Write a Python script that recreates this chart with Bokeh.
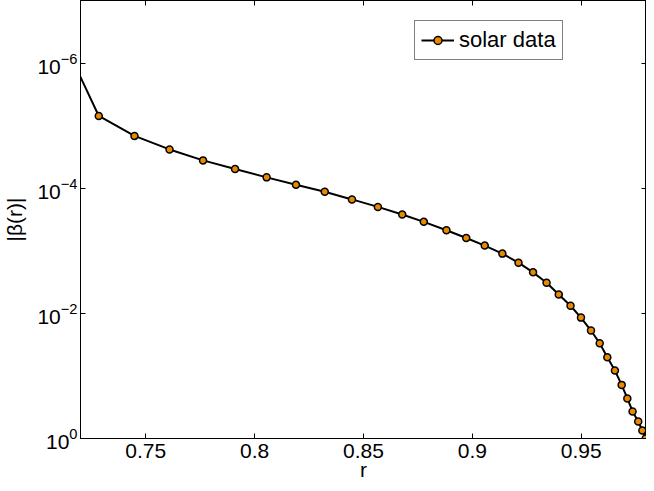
from bokeh.plotting import figure
from bokeh.models import (Range1d, FixedTicker, LinearAxis, LogAxis, NumeralTickFormatter,
                          Legend, LegendItem, CustomJSTickFormatter)
from bokeh.embed import file_html
from bokeh.resources import INLINE

# data
r = [0.7116, 0.7284, 0.7448, 0.7609, 0.7763, 0.7910, 0.8055, 0.8190, 0.8322, 0.8447,
     0.8566, 0.8678, 0.8777, 0.8881, 0.8972, 0.9057, 0.9138, 0.9212, 0.9279, 0.9341,
     0.9397, 0.9451, 0.9499, 0.9545, 0.9585, 0.9620, 0.9655, 0.9686, 0.9712, 0.9736,
     0.9762, 0.9781, 0.9796]
beta = [4.0e-7, 7.0e-6, 1.46e-5, 2.40e-5, 3.59e-5, 4.94e-5, 6.71e-5, 8.83e-5, 1.14e-4, 1.51e-4,
        1.99e-4, 2.63e-4, 3.45e-4, 4.69e-4, 6.24e-4, 8.26e-4, 1.11e-3, 1.55e-3, 2.21e-3, 3.24e-3,
        4.98e-3, 7.55e-3, 1.17e-2, 1.88e-2, 3.01e-2, 5.04e-2, 8.22e-2, 0.139, 0.229, 0.369,
        0.535, 0.745, 1.0]
x_ticks = [0.75, 0.8, 0.85, 0.9, 0.95]
y_ticks = [1e-6, 1e-4, 1e-2, 1.0]
series_label = "solar data"

FONT = "Liberation Sans"
FS = "21px"

p = figure(width=646, height=483, output_backend="svg", toolbar_location=None,
           y_axis_type="log",
           x_range=Range1d(0.72, 0.98), y_range=Range1d(1.0, 1e-7),
           min_border_left=75, min_border_right=0, min_border_top=0, min_border_bottom=44)
p.background_fill_color = "white"
p.border_fill_color = "white"
p.outline_line_color = "black"
p.outline_line_width = 1
p.grid.visible = False

ln = p.line(r, beta, line_color="black", line_width=2)
sc = p.scatter(r, beta, size=7, fill_color="#E88A00", line_color="black", line_width=1.5)

def style(ax, labels=True):
    ax.axis_line_color = "black"
    ax.major_tick_line_color = "black"
    ax.major_tick_in = 5
    ax.major_tick_out = 0
    ax.minor_tick_line_color = None
    ax.major_label_text_font = FONT
    ax.major_label_text_color = "black"
    if labels:
        ax.major_label_text_font_size = FS
    else:
        ax.formatter = CustomJSTickFormatter(code="return '';")
        ax.major_label_text_font_size = "1px"
        ax.major_label_standoff = 0

xa = p.xaxis[0]
xa.ticker = FixedTicker(ticks=x_ticks)
xa.formatter = NumeralTickFormatter(format="0.[00]")
style(xa)
xa.major_label_standoff = 5
xa.axis_label = "r"
xa.axis_label_text_font = FONT
xa.axis_label_text_font_size = FS
xa.axis_label_text_font_style = "normal"
xa.axis_label_text_color = "black"
xa.axis_label_standoff = -3

ya = p.yaxis[0]
ya.ticker = FixedTicker(ticks=y_ticks)
style(ya)
ya.major_label_standoff = 3
ya.axis_label = "|β(r)|"
ya.axis_label_text_font = FONT
ya.axis_label_text_font_size = FS
ya.axis_label_text_font_style = "normal"
ya.axis_label_text_color = "black"
ya.axis_label_standoff = 8

top = LinearAxis(ticker=FixedTicker(ticks=x_ticks))
style(top, labels=False)
p.add_layout(top, "above")
right = LogAxis(ticker=FixedTicker(ticks=y_ticks))
style(right, labels=False)
p.add_layout(right, "right")

legend = Legend(items=[LegendItem(label=series_label, renderers=[ln, sc])],
                location=(334, 378))
legend.label_text_font = FONT
legend.label_text_font_size = "22px"
legend.label_text_color = "black"
legend.border_line_color = "black"
legend.border_line_width = 1
legend.background_fill_color = "white"
legend.background_fill_alpha = 1
legend.margin = 0
legend.padding = 6
legend.spacing = 0
legend.glyph_width = 33
legend.glyph_height = 20
legend.label_height = 20
legend.label_standoff = 5
p.add_layout(legend, "center")

open("out.html", "w").write(file_html(p, INLINE))
